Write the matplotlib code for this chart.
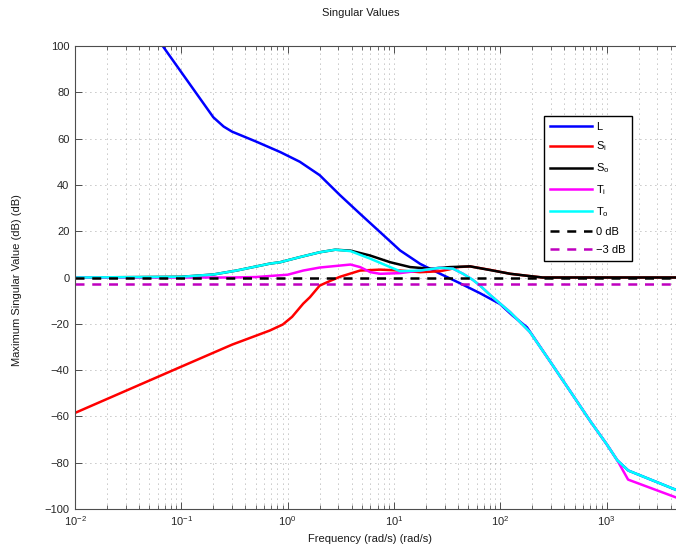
import numpy as np
import matplotlib
matplotlib.use("Agg")
import matplotlib.pyplot as plt
from matplotlib.ticker import FixedLocator, LogFormatterSciNotation, MultipleLocator, NullFormatter

plt.rcParams['font.family'] = ['Liberation Sans', 'DejaVu Sans']
plt.rcParams['mathtext.fontset'] = 'custom'
plt.rcParams['mathtext.rm'] = 'Liberation Sans'
plt.rcParams['mathtext.it'] = 'Liberation Sans:italic'
plt.rcParams['mathtext.bf'] = 'Liberation Sans:bold'
plt.rcParams['mathtext.sf'] = 'Liberation Sans'

# ---- data ----
w_L = [0.01, 0.0668, 0.2, 0.25, 0.3, 0.5, 0.85, 1.3, 2.0, 3.1, 4.8, 7.4, 11.4, 17.6,
       27.2, 41.8, 64.5, 99, 130, 178, 295, 455, 700, 1000, 1260, 1600, 5000]
L_dB = [153.6, 100, 69.2, 65.2, 63, 58.8, 54.2, 50.0, 44.2, 35.6, 27.5, 19.6, 11.7, 5.9,
        1.6, -2.5, -6.8, -11.4, -16.4, -21.5, -36.4, -49.2, -62, -72, -79, -83.4, -92.6]

w_Si = [0.01, 0.1, 0.3, 0.68, 0.9, 1.1, 1.4, 1.62, 2.0, 2.5, 3.1, 4.8, 7.4, 11.4, 17.6, 27,
        33, 40, 52, 80, 124, 190, 250, 5000]
Si_dB = [-58.5, -38.5, -29, -22.9, -20.3, -17, -11.3, -8.5, -3.5, -1.5, 0.3, 3.0, 3.4, 3.0, 2.3, 2.7,
         3.5, 4.5, 4.8, 3.3, 1.6, 0.6, 0.0, 0.0]

w_So = [0.01, 0.1, 0.2, 0.33, 0.68, 0.85, 1.3, 2.0, 2.8, 3.9, 5.96, 9.2, 14.2, 21.9, 33.6,
        52, 85, 124, 190, 250, 5000]
So_dB = [0.0, 0.3, 1.3, 3.0, 6.0, 6.6, 8.8, 10.9, 12.0, 11.6, 9.5, 6.6, 4.5, 3.8, 4.5,
         4.8, 3.0, 1.6, 0.6, 0.0, 0.0]

w_Ti = [0.01, 0.3, 0.5, 1.0, 1.4, 2.0, 3.9, 4.8, 6.0, 7.4, 11.4, 15, 17.6, 27, 36, 45, 55,
        64.5, 80, 124, 190, 295, 455, 700, 1000, 1260, 1590, 5000]
Ti_dB = [0.0, 0.0, 0.2, 1.2, 3.0, 4.3, 5.6, 4.5, 2.3, 1.6, 1.9, 2.6, 3.0, 4.2, 3.8, 1.5, -1.0,
         -3.5, -7.5, -15, -23.6, -36.4, -49.2, -62, -72, -79, -87.3, -95.8]

w_To = [0.01, 0.1, 0.2, 0.33, 0.68, 0.85, 1.3, 2.0, 2.8, 3.9, 6.0, 9.2, 11.4, 17.6, 27, 36,
        45, 55, 64.5, 80, 124, 190, 295, 455, 700, 1000, 1260, 1600, 5000]
To_dB = [0.0, 0.3, 1.3, 3.0, 6.0, 6.6, 8.8, 10.9, 12.0, 11.4, 8.1, 4.5, 2.7, 3.0, 4.2, 3.8,
         1.5, -1.0, -3.5, -7.5, -15, -23.6, -36.4, -49.2, -62, -72, -79, -83.4, -92.6]

w_ref = [0.01, 5000]
zero_dB = [0, 0]
minus3_dB = [-3, -3]

x_major = [1e-2, 1e-1, 1e0, 1e1, 1e2, 1e3]

labels = ['L', r'$\mathrm{S_i}$', r'$\mathrm{S_o}$', r'$\mathrm{T_i}$', r'$\mathrm{T_o}$',
          '0 dB', '\u22123 dB']

# ---- figure ----
W, H = 676, 551
fig = plt.figure(figsize=(W / 100, H / 100), dpi=100)
left_px, right_px, top_px, bot_px = 75, 713, 46, 509
ax = fig.add_axes([left_px / W, 1 - bot_px / H, (right_px - left_px) / W, (bot_px - top_px) / H])

lw = 1.8
ax.semilogx(w_L, L_dB, color=(0, 0, 1), lw=lw, label=labels[0])
ax.semilogx(w_Si, Si_dB, color=(1, 0, 0), lw=lw, label=labels[1])
ax.semilogx(w_So, So_dB, color=(0, 0, 0), lw=lw, label=labels[2])
ax.semilogx(w_Ti, Ti_dB, color=(1, 0, 1), lw=lw, label=labels[3])
ax.semilogx(w_To, To_dB, color=(0, 1, 1), lw=lw, label=labels[4])
ax.semilogx(w_ref, zero_dB, color=(0, 0, 0), lw=lw, linestyle=(0, (3.6, 3.1)), label=labels[5])
ax.semilogx(w_ref, minus3_dB, color=(0.75, 0, 0.75), lw=lw, linestyle=(0, (3.6, 3.1)), label=labels[6])

ax.set_xlim(1e-2, 1e4)
ax.set_ylim(-100, 100)
ax.yaxis.set_major_locator(MultipleLocator(20))
ax.xaxis.set_major_locator(FixedLocator(x_major))
minor = [m * d for d in [1e-2, 1e-1, 1e0, 1e1, 1e2, 1e3] for m in range(2, 10)]
ax.xaxis.set_minor_locator(FixedLocator(minor))
ax.xaxis.set_minor_formatter(NullFormatter())
ax.xaxis.set_major_formatter(LogFormatterSciNotation())

spc = '0.3'
for s in ax.spines.values():
    s.set_color(spc)
    s.set_linewidth(0.8)
ax.tick_params(axis='both', which='both', direction='in', top=True, right=True,
               colors=spc, labelcolor='0.15', labelsize=8)
ax.tick_params(axis='both', which='major', length=5, width=0.7, pad=4)
ax.tick_params(axis='x', which='minor', length=3, width=0.6)

gkw = dict(color='0.55', linestyle=(0, (1, 5)), linewidth=0.6)
ax.grid(True, which='major', axis='both', **gkw)
ax.grid(True, which='minor', axis='x', **gkw)
ax.set_axisbelow(True)

leg = ax.legend(loc='upper left', bbox_to_anchor=(543.5 / W, 1 - 115.5 / H),
                bbox_transform=fig.transFigure, fontsize=8, handlelength=3.8,
                handletextpad=0.4, labelspacing=0.72, borderpad=0.55, borderaxespad=0,
                fancybox=False, framealpha=1, edgecolor='black')
leg.get_frame().set_linewidth(1.0)

fig.text(361 / W, 1 - 13 / H, 'Singular Values', ha='center', va='center', fontsize=8, color='0.1')
fig.text(370 / W, 1 - 539 / H, 'Frequency (rad/s) (rad/s)', ha='center', va='center', fontsize=8, color='0.1')
fig.text(17 / W, 1 - 280 / H, 'Maximum Singular Value (dB) (dB)', ha='center', va='center',
         rotation=90, fontsize=8, color='0.1')

fig.savefig('out.png', dpi=100)
